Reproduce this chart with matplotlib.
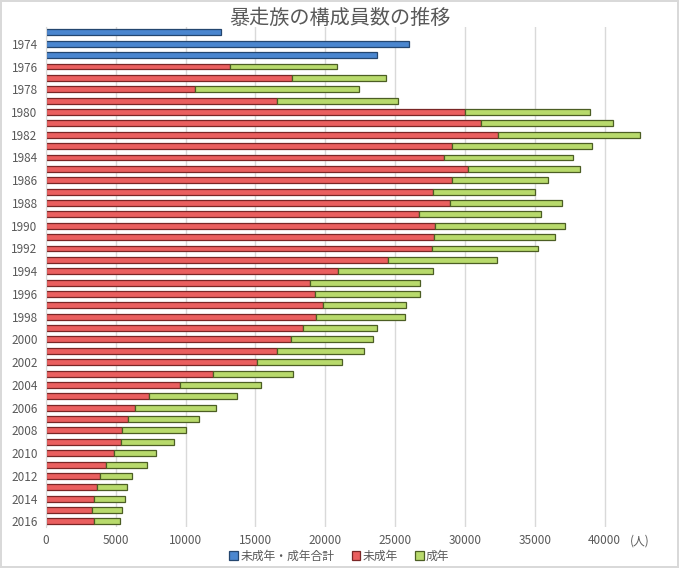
import matplotlib
matplotlib.use("Agg")
import matplotlib.pyplot as plt
import numpy as np

plt.rcParams['font.family'] = ['Noto Sans CJK JP', 'DejaVu Sans']

# years 1973-2016
years = list(range(1973, 2017))

# 1973-1975: only totals available
total_only = [12500, 26000, 23700]

# 1976-2016: minors (未成年) and totals
minors = [13170, 17620, 10640, 16550, 30000, 31170, 32400, 29090, 28530, 30240,
          29090, 27720, 28900, 26730, 27880, 27780, 27660, 24490, 20940, 18940,
          19270, 19840, 19340, 18410, 17570, 16550, 15090, 11950, 9620, 7370,
          6360, 5860, 5460, 5360, 4880, 4330, 3850, 3690, 3420, 3330, 3420]
totals = [20870, 24360, 22420, 25220, 38980, 40630, 42570, 39080, 37720, 38220,
          35980, 34990, 36980, 35480, 37190, 36480, 35200, 32290, 27750, 26750,
          26750, 25790, 25720, 23740, 23430, 22740, 21230, 17720, 15420, 13700,
          12200, 10980, 10020, 9160, 7870, 7220, 6170, 5820, 5670, 5460, 5290]
adults = [t - m for t, m in zip(totals, minors)]

xticks = [0, 5000, 10000, 15000, 20000, 25000, 30000, 35000, 40000]

fig = plt.figure(figsize=(6.79, 5.68), dpi=100)
fig.patch.set_edgecolor('#d9d9d9')
fig.patch.set_linewidth(1.5)
ax = fig.add_axes([0.0677, 0.072, 0.909, 0.881])

bar_h = 0.52
ax.barh(years[:3], total_only, height=bar_h, color='#4a86cf',
        edgecolor='#24466f', linewidth=0.9, label='未成年・成年合計')
ax.barh(years[3:], minors, height=bar_h, color='#ea5f5f',
        edgecolor='#7a2626', linewidth=0.9, label='未成年')
ax.barh(years[3:], adults, left=minors, height=bar_h, color='#b8da6c',
        edgecolor='#4c5e24', linewidth=0.9, label='成年')

ax.set_ylim(2016.5, 1972.5)
ax.set_xlim(0, 44200)
ax.set_yticks(list(range(1974, 2017, 2)))
ax.set_xticks(xticks)
ax.set_xticklabels([str(v) for v in xticks])
ax.tick_params(axis='both', length=0, labelsize=8.5, colors='#595959')
ax.tick_params(axis='x', pad=5)
ax.tick_params(axis='y', pad=6)
ax.xaxis.grid(True, color='#d9d9d9', linewidth=1)
ax.set_axisbelow(True)
for s in ['top', 'right', 'bottom']:
    ax.spines[s].set_visible(False)
ax.spines['left'].set_color('#d9d9d9')

# unit label next to the last tick
fig.text(0.942, 0.0475, '(人)', ha='center', va='center',
         fontsize=8.5, color='#595959')

fig.text(0.5, 0.968, '暴走族の構成員数の推移', ha='center', va='center',
         fontsize=14.5, color='#595959')

fig.legend(loc='center', bbox_to_anchor=(0.5, 0.021), ncol=3,
           frameon=False, fontsize=8.5, handlelength=0.7, handleheight=0.7,
           handletextpad=0.2, columnspacing=1.5, labelcolor='#595959',
           borderaxespad=0, borderpad=0)

fig.savefig('out.png', dpi=100)
